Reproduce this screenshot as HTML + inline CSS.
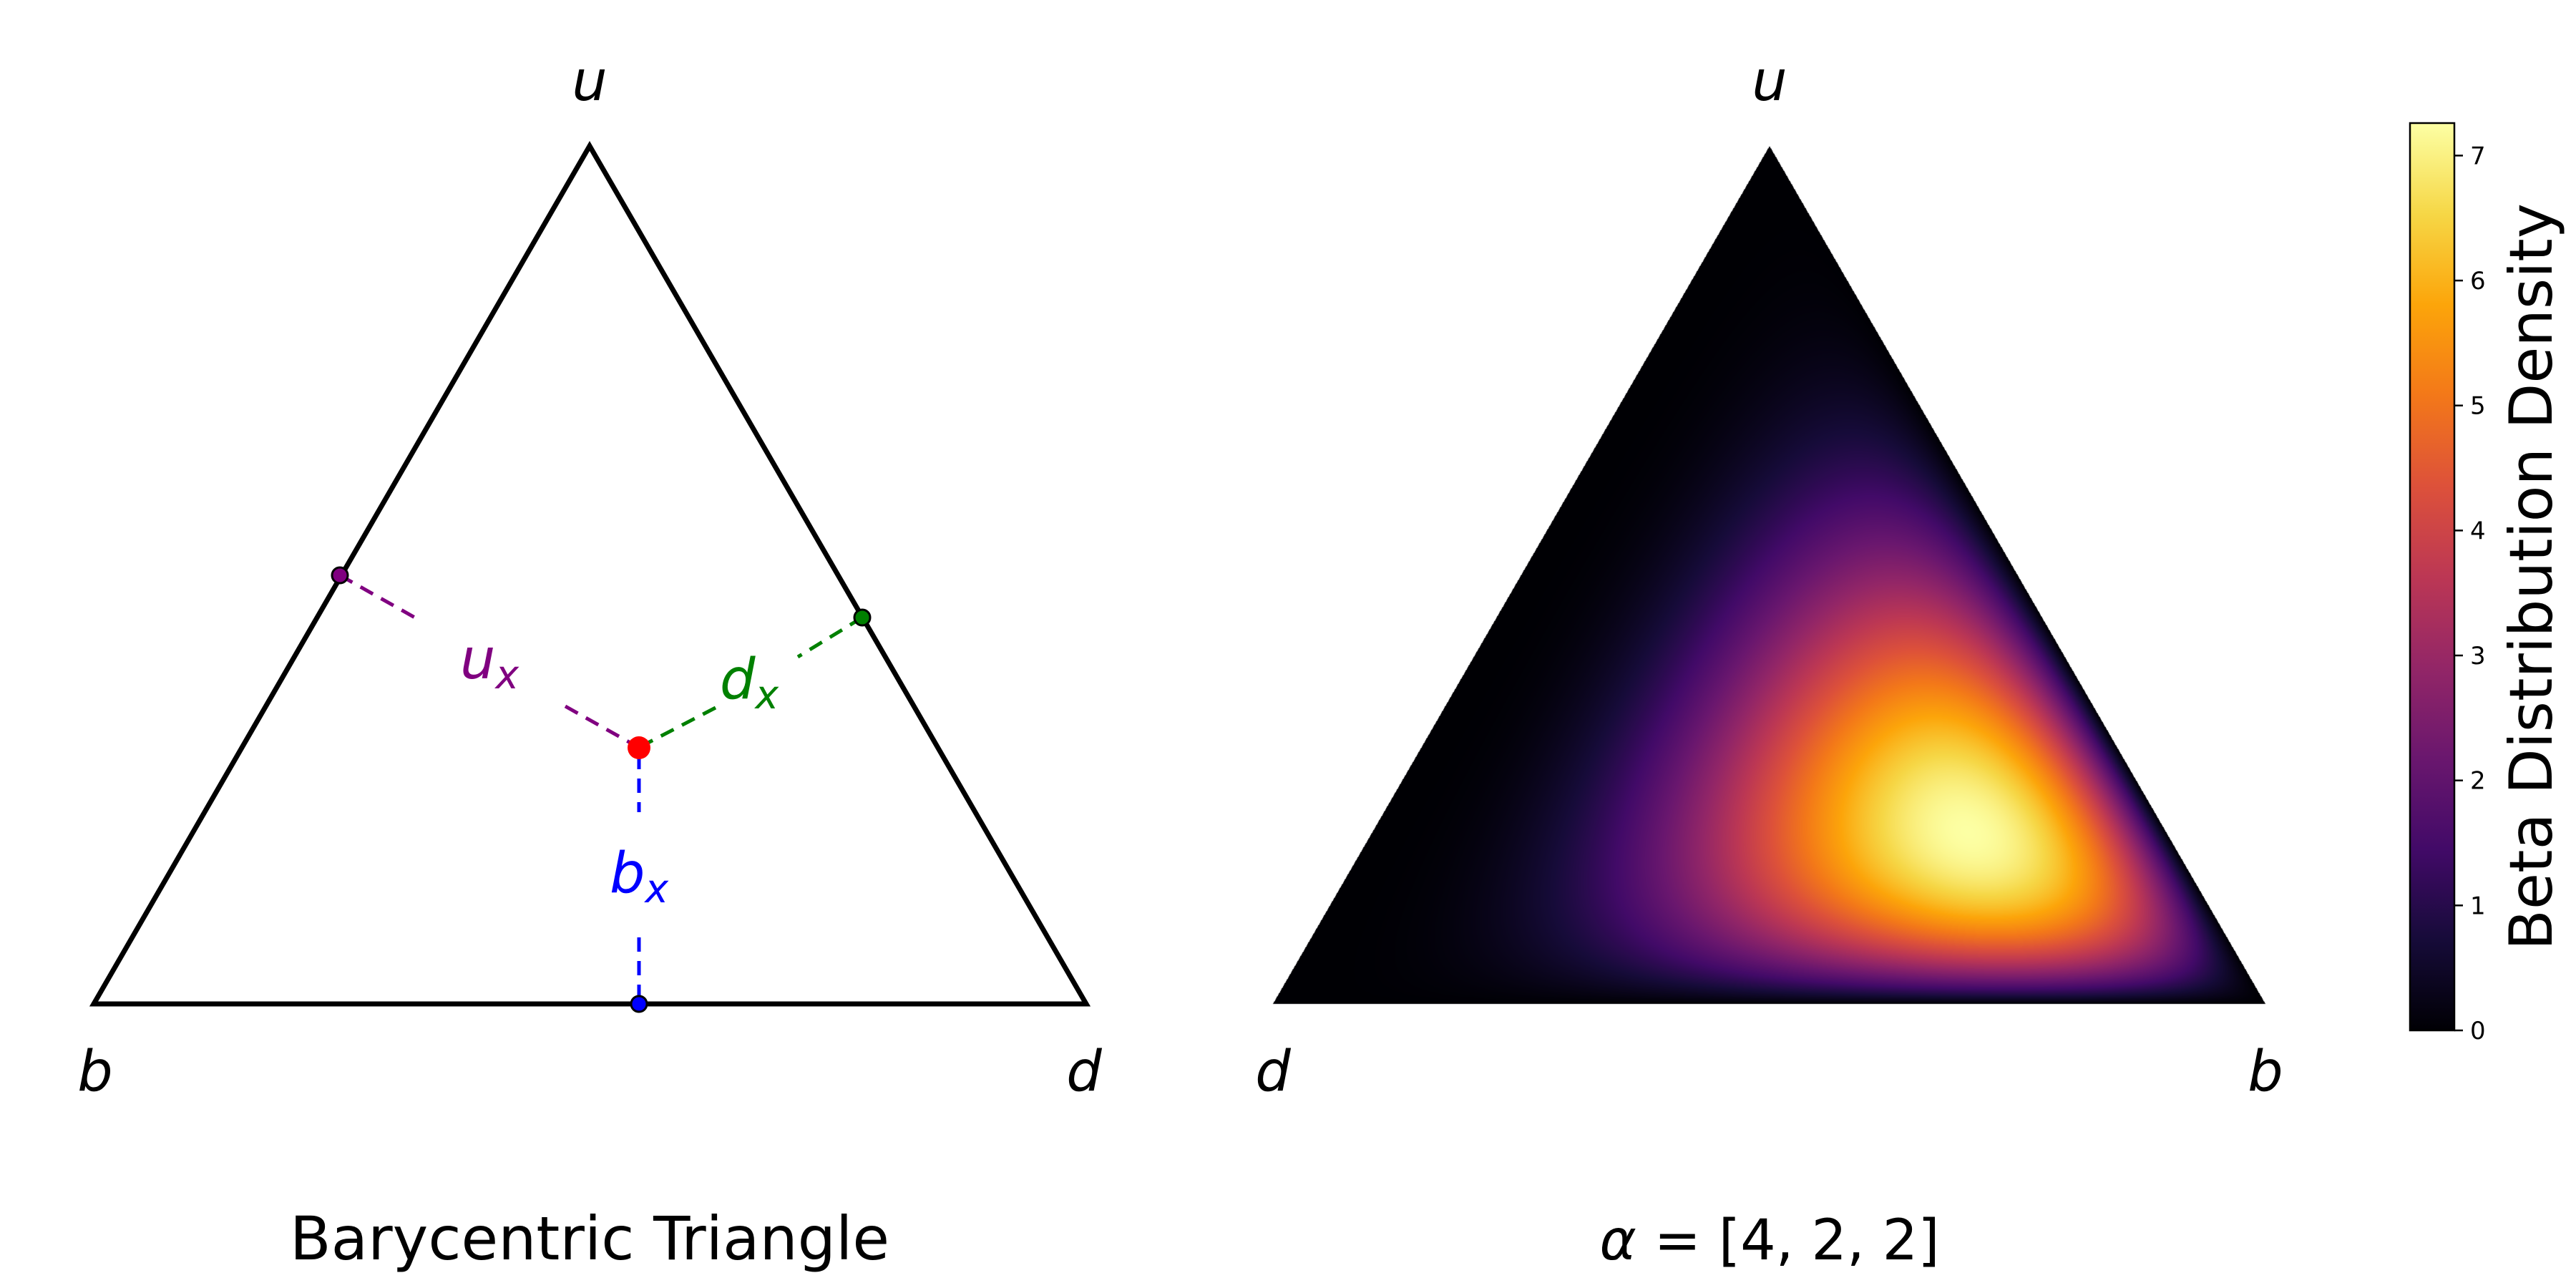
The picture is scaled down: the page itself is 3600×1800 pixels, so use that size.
<!DOCTYPE html>
<html><head><meta charset="utf-8">
<style>
html,body{margin:0;padding:0;background:#fff;}
#wrap{position:relative;width:3600px;height:1800px;overflow:hidden;font-family:"DejaVu Sans","Liberation Sans",sans-serif;}
canvas,svg{position:absolute;left:0;top:0;}
svg text{font-family:"DejaVu Sans","Liberation Sans",sans-serif;}
</style></head>
<body>
<div id="wrap">
<canvas id="heat" width="3600" height="1800"></canvas>
<svg id="svg" width="3600" height="1800" xmlns="http://www.w3.org/2000/svg">
  <defs>
    <linearGradient id="cbgrad" x1="0" y1="1" x2="0" y2="0">
      <stop offset="0" stop-color="#000004"/><stop offset="0.1" stop-color="#160b39"/>
      <stop offset="0.2" stop-color="#420a68"/><stop offset="0.3" stop-color="#6a176e"/>
      <stop offset="0.4" stop-color="#932667"/><stop offset="0.5" stop-color="#bc3754"/>
      <stop offset="0.6" stop-color="#dd513a"/><stop offset="0.7" stop-color="#f37819"/>
      <stop offset="0.8" stop-color="#fca50a"/><stop offset="0.9" stop-color="#f6d746"/>
      <stop offset="1" stop-color="#fcffa4"/>
    </linearGradient>
  </defs>
  <polygon points="824,204 131,1403 1518,1403" fill="none" stroke="#000" stroke-width="7" stroke-linejoin="miter"/>
  <g stroke-width="5" stroke-dasharray="20,13" fill="none">
    <line x1="475" y1="804" x2="585" y2="866" stroke="#800080"/>
    <line x1="790" y1="987" x2="888" y2="1042" stroke="#800080"/>
    <line x1="1205" y1="863" x2="1115" y2="918" stroke="#008000"/>
    <line x1="1000" y1="989" x2="898" y2="1042" stroke="#008000"/>
    <line x1="893" y1="1055" x2="893" y2="1135" stroke="#0000ff"/>
    <line x1="893" y1="1310" x2="893" y2="1403" stroke="#0000ff"/>
  </g>
  <circle cx="893" cy="1045" r="16" fill="#ff0000"/>
  <circle cx="475" cy="804" r="11" fill="#800080" stroke="#000" stroke-width="3"/>
  <circle cx="1205" cy="863" r="11" fill="#008000" stroke="#000" stroke-width="3"/>
  <circle cx="893" cy="1403" r="11" fill="#0000ff" stroke="#000" stroke-width="3"/>
  <g font-style="italic" font-size="78" text-anchor="middle">
    <text x="684" y="948" fill="#800080">u<tspan font-size="55" dy="14">x</tspan></text>
    <text x="1047" y="976" fill="#008000">d<tspan font-size="55" dy="14">x</tspan></text>
    <text x="893" y="1247" fill="#0000ff">b<tspan font-size="55" dy="14">x</tspan></text>
    <text x="824" y="140">u</text>
    <text x="133" y="1524">b</text>
    <text x="1515" y="1524">d</text>
    <text x="2473" y="140">u</text>
    <text x="1779" y="1524">d</text>
    <text x="3166" y="1524">b</text>
  </g>
  <text x="824" y="1760" font-size="84" text-anchor="middle">Barycentric Triangle</text>
  <text x="2473" y="1760" font-size="78" text-anchor="middle"><tspan font-style="italic">α</tspan> = [4, 2, 2]</text>
  <rect x="3368" y="172" width="62" height="1268" fill="url(#cbgrad)" stroke="#000" stroke-width="2.5"/>
  <g id="cbticks"></g>
  <text transform="translate(3566,806) rotate(-90)" font-size="83" text-anchor="middle">Beta Distribution Density</text>
</svg>
</div>
<script>
const alpha = [4, 2, 2]; // b, d, u
const cbTicks = [0, 1, 2, 3, 4, 5, 6, 7];
const cbMax = 7.26;

function lgamma(n){let r=0;for(let i=2;i<n;i++)r+=Math.log(i);return r;}
const logC = lgamma(alpha[0]+alpha[1]+alpha[2]) - lgamma(alpha[0]) - lgamma(alpha[1]) - lgamma(alpha[2]);

const stops=[[0,0,0,4],[0.1,22,11,57],[0.2,66,10,104],[0.3,106,23,110],[0.4,147,38,103],[0.5,188,55,84],[0.6,221,81,58],[0.7,243,120,25],[0.8,252,165,10],[0.9,246,215,70],[1,252,255,164]];
function cmap(t){t=Math.max(0,Math.min(1,t));for(let i=1;i<stops.length;i++){if(t<=stops[i][0]){const a=stops[i-1],b=stops[i];const f=(t-a[0])/(b[0]-a[0]);return [a[1]+f*(b[1]-a[1]),a[2]+f*(b[2]-a[2]),a[3]+f*(b[3]-a[3])];}}return stops[stops.length-1].slice(1);}

const D=[1779,1403],B=[3166,1403],U=[2473,204];
const cv=document.getElementById('heat');const ctx=cv.getContext('2d');
const x0=D[0],x1=B[0],y0=U[1],y1=D[1];
const W=x1-x0+1,H=y1-y0+1;
const img=ctx.createImageData(W,H);
const den=(B[1]-U[1])*(D[0]-U[0])+(U[0]-B[0])*(D[1]-U[1]);
for(let py=0;py<H;py++){for(let px=0;px<W;px++){
  const x=x0+px+0.5,y=y0+py+0.5;
  const ld=((B[1]-U[1])*(x-U[0])+(U[0]-B[0])*(y-U[1]))/den;
  const lb=((U[1]-D[1])*(x-U[0])+(D[0]-U[0])*(y-U[1]))/den;
  const lu=1-ld-lb;
  if(ld<0||lb<0||lu<0)continue;
  let v=0;
  if(ld>0&&lb>0&&lu>0)v=Math.exp(logC+(alpha[0]-1)*Math.log(lb)+(alpha[1]-1)*Math.log(ld)+(alpha[2]-1)*Math.log(lu));
  const c=cmap(v/cbMax);const k=(py*W+px)*4;
  img.data[k]=c[0];img.data[k+1]=c[1];img.data[k+2]=c[2];img.data[k+3]=255;
}}
ctx.putImageData(img,x0,y0);

const g=document.getElementById('cbticks');const NS='http://www.w3.org/2000/svg';
const cbY=v=>1440-v/cbMax*1268;
cbTicks.forEach(t=>{
  const l=document.createElementNS(NS,'line');
  
  
  l.setAttribute('x1',3430);l.setAttribute('x2',3442);l.setAttribute('y1',cbY(t));l.setAttribute('y2',cbY(t));
  l.setAttribute('stroke','#000');l.setAttribute('stroke-width','2.5');g.appendChild(l);
  const tx=document.createElementNS(NS,'text');
  
  
  tx.setAttribute('x',3452);tx.setAttribute('y',cbY(t)+12);tx.setAttribute('font-size','34');
  tx.textContent=t;g.appendChild(tx);
});
</script>
</body></html>
